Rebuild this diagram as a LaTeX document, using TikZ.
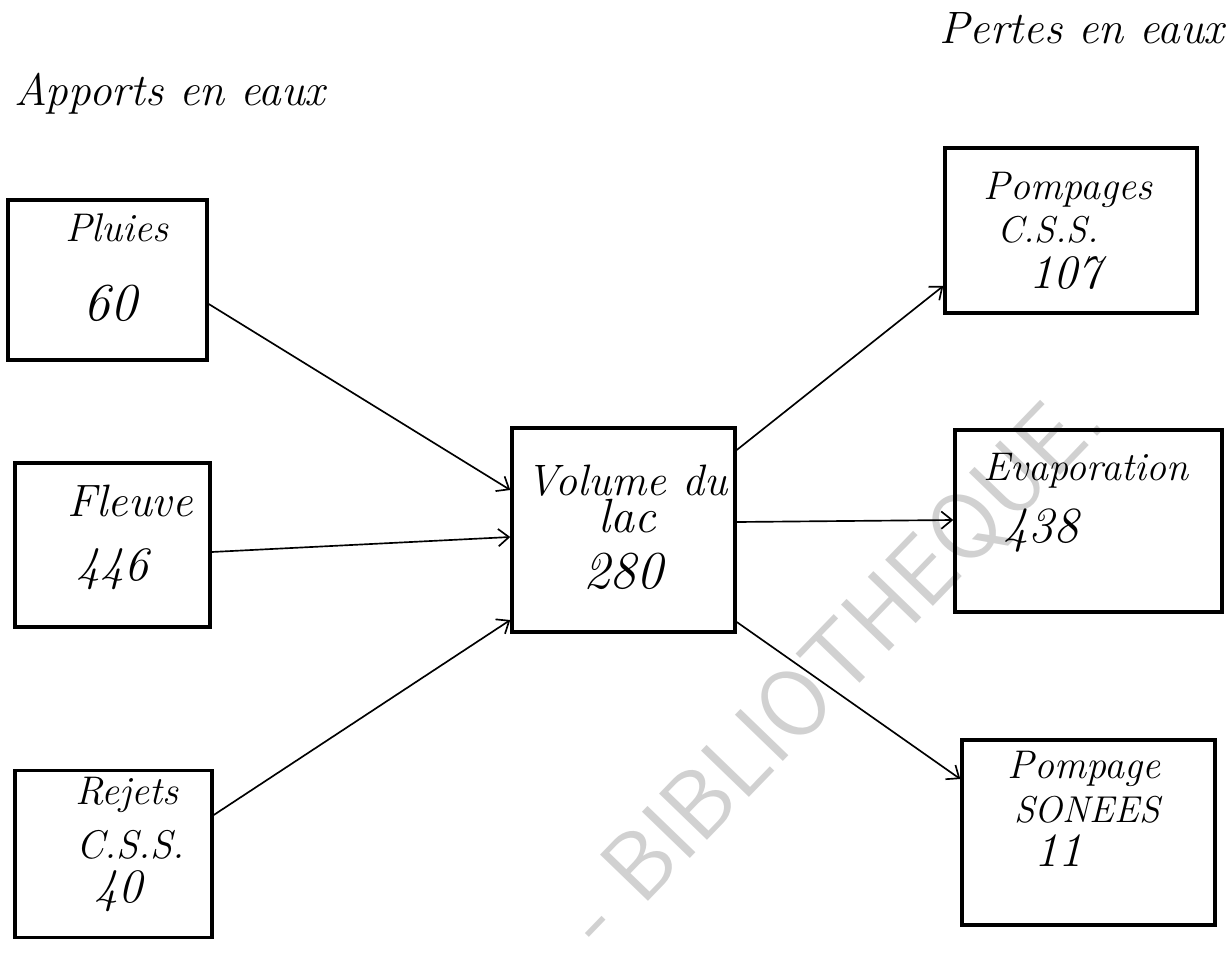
\documentclass[tikz,border=0pt]{standalone}
\usetikzlibrary{arrows.meta}
\begin{document}
\begin{tikzpicture}[x=0.75pt,y=-0.75pt,
  box/.style={draw=black,line width=2.6pt,rectangle,inner sep=0pt},
  flow/.style={draw=black,line width=1.25pt,-{Straight Barb[length=8pt,width=13pt,line width=1.25pt]}},
  hand/.style={font=\fontsize{30}{34}\selectfont\itshape,inner sep=0pt,anchor=base},
  num/.style={font=\fontsize{36}{40}\selectfont\itshape},
  title/.style={font=\fontsize{34}{38}\selectfont\itshape,inner sep=0pt,anchor=base},
  wm/.style={font=\fontsize{72}{80}\selectfont\sffamily,text=black!18,inner sep=0pt}]
\useasboundingbox (0,0) rectangle (1230,952);
% watermark
\node[wm,rotate=46] (wmark) at (835,668) {- BIBLIOTHEQUE.};
% titles
\node[title] (tin) at (170,106) {Apports en eaux};
\node[title] (tout) at (1082,44) {Pertes en eaux};
% boxes (centre, size in px -> pt)
\node[box,minimum width=0.75*199pt,minimum height=0.75*160pt] (pluies) at (107.5,280) {};
\node[box,minimum width=0.75*195pt,minimum height=0.75*164pt] (fleuve) at (112.5,545) {};
\node[box,minimum width=0.75*197pt,minimum height=0.75*167pt] (rejets) at (113.5,854) {};
\node[box,minimum width=0.75*223pt,minimum height=0.75*204pt] (volume) at (623.5,530) {};
\node[box,minimum width=0.75*252pt,minimum height=0.75*165pt] (pompages) at (1071,230.5) {};
\node[box,minimum width=0.75*267pt,minimum height=0.75*182pt] (evap) at (1088.5,521) {};
\node[box,minimum width=0.75*253pt,minimum height=0.75*185pt] (sonees) at (1088.5,832.5) {};
% texts
\node[hand] (t1a) at (117,242) {Pluies};
\node[hand,font=\fontsize{40}{44}\selectfont\itshape] (t1b) at (110,320) {60};
\node[hand,font=\fontsize{34}{38}\selectfont\itshape] (t2a) at (130,516) {Fleuve};
\node[hand,num] (t2b) at (112,580) {446};
\node[hand] (t3a) at (127,804) {Rejets};
\node[hand] (t3b) at (130,858) {C.S.S.};
\node[hand,num] (t3c) at (118,902) {40};
\node[hand,font=\fontsize{33}{36}\selectfont\itshape] (t4a) at (627,495) {Volume du};
\node[hand,font=\fontsize{36}{40}\selectfont\itshape] (t4b) at (627,532) {lac};
\node[hand,font=\fontsize{40}{44}\selectfont\itshape] (t4c) at (623,588) {280};
\node[hand] (t5a) at (1068,200) {Pompages};
\node[hand,font=\fontsize{28}{32}\selectfont\itshape] (t5b) at (1048,243) {C.S.S.};
\node[hand,font=\fontsize{36}{40}\selectfont\itshape] (t5c) at (1065,288) {107};
\node[hand] (t6a) at (1086,480) {Evaporation};
\node[hand,font=\fontsize{38}{42}\selectfont\itshape] (t6b) at (1041,542) {438};
\node[hand] (t7a) at (1084,778) {Pompage};
\node[hand,font=\fontsize{28}{32}\selectfont\itshape] (t7b) at (1087,822) {SONEES};
\node[hand,num] (t7c) at (1058,866) {11};
% connectors
\draw[flow] (pluies.east |- 0,304) -- (volume.west |- 0,490);
\draw[flow] (fleuve.east |- 0,552) -- (volume.west |- 0,537);
\draw[flow] (rejets.east |- 0,815) -- (volume.west |- 0,620);
\draw[flow] (volume.east |- 0,450) -- (pompages.west |- 0,286);
\draw[flow] (volume.east |- 0,522) -- (evap.west |- 0,520);
\draw[flow] (volume.east |- 0,622) -- (sonees.west |- 0,779);
\end{tikzpicture}
\end{document}
